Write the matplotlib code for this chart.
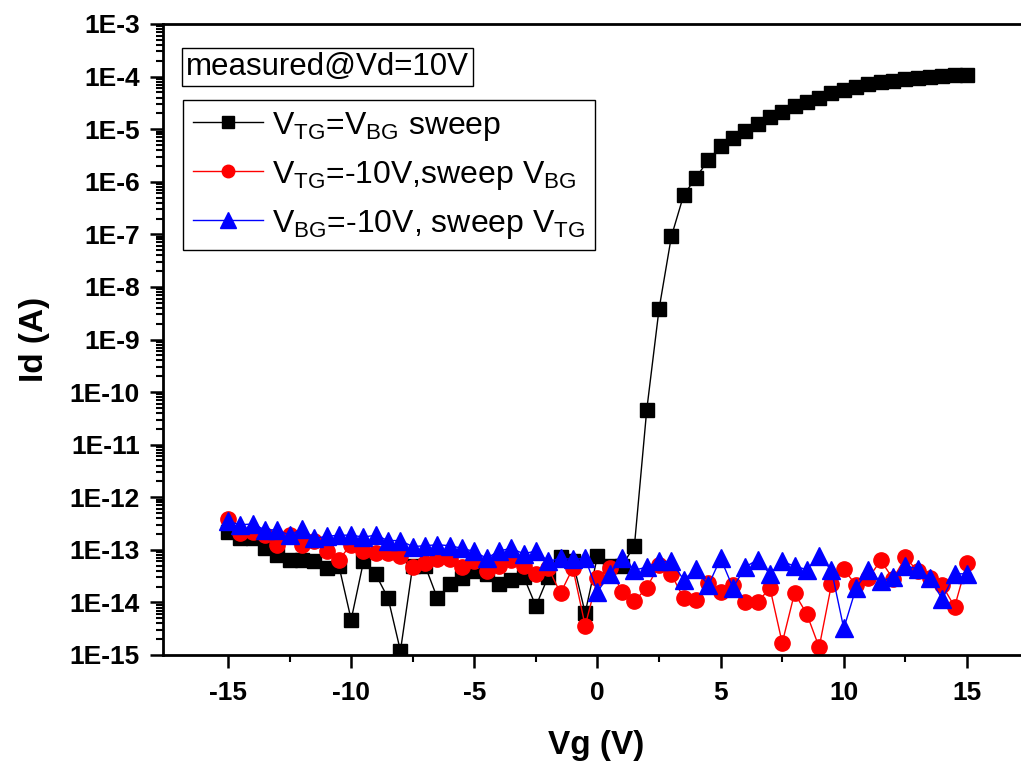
import numpy as np
from matplotlib import pyplot as plt
from matplotlib.ticker import FixedLocator, LogLocator, FuncFormatter, NullFormatter

# gate voltage (V), 0.5 V steps
vg = [-15, -14.5, -14, -13.5, -13, -12.5, -12, -11.5, -11, -10.5,
      -10, -9.5, -9, -8.5, -8, -7.5, -7, -6.5, -6, -5.5,
      -5, -4.5, -4, -3.5, -3, -2.5, -2, -1.5, -1, -0.5,
      0, 0.5, 1, 1.5, 2, 2.5, 3, 3.5, 4, 4.5,
      5, 5.5, 6, 6.5, 7, 7.5, 8, 8.5, 9, 9.5,
      10, 10.5, 11, 11.5, 12, 12.5, 13, 13.5, 14, 14.5, 15]

# VTG = VBG sweep
id_dual = [2.2e-13, 1.7e-13, 1.7e-13, 1.1e-13, 8e-14, 6.5e-14, 6.5e-14, 6e-14, 4.5e-14, 5e-14,
           4.7e-15, 6e-14, 3.4e-14, 1.2e-14, 1.2e-15, 5e-14, 5e-14, 1.2e-14, 2.2e-14, 2.9e-14,
           4e-14, 3.4e-14, 2.2e-14, 2.7e-14, 3.1e-14, 8.5e-15, 3.1e-14, 7.4e-14, 6e-14, 6.3e-15,
           7.6e-14, 5e-14, 5e-14, 1.2e-13, 4.6e-11, 3.8e-9, 9.1e-8, 5.6e-7, 1.2e-6, 2.6e-6,
           4.7e-6, 6.7e-6, 9.3e-6, 1.25e-5, 1.7e-5, 2.15e-5, 2.7e-5, 3.3e-5, 4.0e-5, 4.8e-5,
           5.6e-5, 6.4e-5, 7.1e-5, 7.8e-5, 8.4e-5, 8.9e-5, 9.4e-5, 9.8e-5, 1.02e-4, 1.05e-4, 1.08e-4]

# VTG = -10 V, sweep VBG
id_bg = [3.8e-13, 2.1e-13, 2.2e-13, 1.9e-13, 1.26e-13, 1.9e-13, 1.26e-13, 1.5e-13, 9.3e-14, 6.5e-14,
         1.26e-13, 9.3e-14, 8.8e-14, 8.8e-14, 7.7e-14, 4.7e-14, 5.6e-14, 6.6e-14, 6.6e-14, 4.7e-14,
         6e-14, 3.9e-14, 5e-14, 6.5e-14, 4.9e-14, 3.4e-14, 4.5e-14, 1.5e-14, 4.5e-14, 3.6e-15,
         2.9e-14, 4.5e-14, 1.6e-14, 1.05e-14, 1.9e-14, 5.1e-14, 3.4e-14, 1.2e-14, 1.1e-14, 2.3e-14,
         1.6e-14, 2.1e-14, 1.0e-14, 1.0e-14, 1.9e-14, 1.7e-15, 1.5e-14, 6e-15, 1.4e-15, 2.2e-14,
         4.3e-14, 2.1e-14, 2.9e-14, 6.3e-14, 2.8e-14, 7.2e-14, 3.9e-14, 2.9e-14, 2.1e-14, 8.3e-15, 5.6e-14]

# VBG = -10 V, sweep VTG
id_tg = [3.5e-13, 3e-13, 3.1e-13, 2.4e-13, 2.4e-13, 1.9e-13, 2.5e-13, 1.65e-13, 1.8e-13, 1.9e-13,
         1.9e-13, 1.75e-13, 1.9e-13, 1.5e-13, 1.5e-13, 1.15e-13, 1.2e-13, 1.25e-13, 1.2e-13, 1.07e-13,
         9.3e-14, 6.9e-14, 9.5e-14, 1.07e-13, 8.4e-14, 9.5e-14, 6e-14, 6.9e-14, 6.6e-14, 6.9e-14,
         1.6e-14, 3.5e-14, 6.9e-14, 4.1e-14, 4.7e-14, 6e-14, 6e-14, 2.7e-14, 4.3e-14, 2.1e-14,
         6.9e-14, 1.9e-14, 4.7e-14, 6.5e-14, 3.5e-14, 6e-14, 4.9e-14, 4.2e-14, 7.7e-14, 4.1e-14,
         3.2e-15, 1.9e-14, 4.1e-14, 2.5e-14, 3.1e-14, 5e-14, 4.3e-14, 2.9e-14, 1.15e-14, 3.5e-14, 3.5e-14]

labels = [r'$\mathregular{V_{TG}}$=$\mathregular{V_{BG}}$ sweep',
          r'$\mathregular{V_{TG}}$=-10V,sweep $\mathregular{V_{BG}}$',
          r'$\mathregular{V_{BG}}$=-10V, sweep $\mathregular{V_{TG}}$']

plt.rcParams['font.family'] = ['Liberation Sans', 'DejaVu Sans']
plt.rcParams['mathtext.fontset'] = 'custom'
plt.rcParams['mathtext.rm'] = 'Liberation Sans'
plt.rcParams['axes.unicode_minus'] = False

fig = plt.figure(figsize=(10.21, 7.69), dpi=100, facecolor='w')
ax = fig.add_axes([163/1021, 114/769, 867/1021, 631/769])

ax.plot(vg, id_dual, color='black', marker='s', markersize=10, lw=1, label=labels[0])
ax.plot(vg, id_bg, color='red', marker='o', markersize=11, lw=1, label=labels[1])
ax.plot(vg, id_tg, color='blue', marker='^', markersize=13, lw=1, label=labels[2])

ax.set_yscale('log')
ax.set_ylim(1e-15, 1e-3)
ax.set_xlim(-17.64, 17.56)

ax.yaxis.set_major_locator(FixedLocator([10.0**k for k in range(-15, -2)]))
ax.yaxis.set_minor_locator(LogLocator(base=10, subs=np.arange(2, 10), numticks=30))
ax.yaxis.set_minor_formatter(NullFormatter())
ax.yaxis.set_major_formatter(FuncFormatter(lambda v, p: '1E%d' % round(np.log10(v))))
ax.set_xticks([-15, -10, -5, 0, 5, 10, 15])
ax.set_xticks([-12.5, -7.5, -2.5, 2.5, 7.5, 12.5], minor=True)

for s in ax.spines.values():
    s.set_linewidth(2)
ax.spines['right'].set_visible(False)
ax.tick_params(which='major', direction='out', length=9.5, width=1.8, labelsize=19)
ax.tick_params(axis='y', which='major', pad=7)
ax.tick_params(axis='x', which='major', pad=9)
ax.tick_params(which='minor', direction='out', length=5, width=1.5)
for t in ax.get_xticklabels() + ax.get_yticklabels():
    t.set_fontweight('bold')

ax.set_xlabel('Vg (V)', fontsize=24, fontweight='bold', labelpad=18)
ax.set_ylabel('Id (A)', fontsize=24, fontweight='bold', labelpad=14)

leg = ax.legend(loc='upper left', bbox_to_anchor=(183/1021, 1 - 100/769),
                bbox_transform=fig.transFigure, fontsize=23, handlelength=2.2,
                fancybox=False, edgecolor='black', framealpha=1, borderaxespad=0,
                labelspacing=0.5, handletextpad=0.3, borderpad=0.3)
leg.get_frame().set_linewidth(1)
for h, ms in zip(leg.legend_handles, [9, 9, 11]):
    h.set_markersize(ms)

fig.text(186/1021, 1 - 67/769, 'measured@Vd=10V', fontsize=22.5, va='center', ha='left',
         bbox=dict(boxstyle='square,pad=0.12', fc='white', ec='black', lw=1))

fig.savefig('out.png', dpi=100)
